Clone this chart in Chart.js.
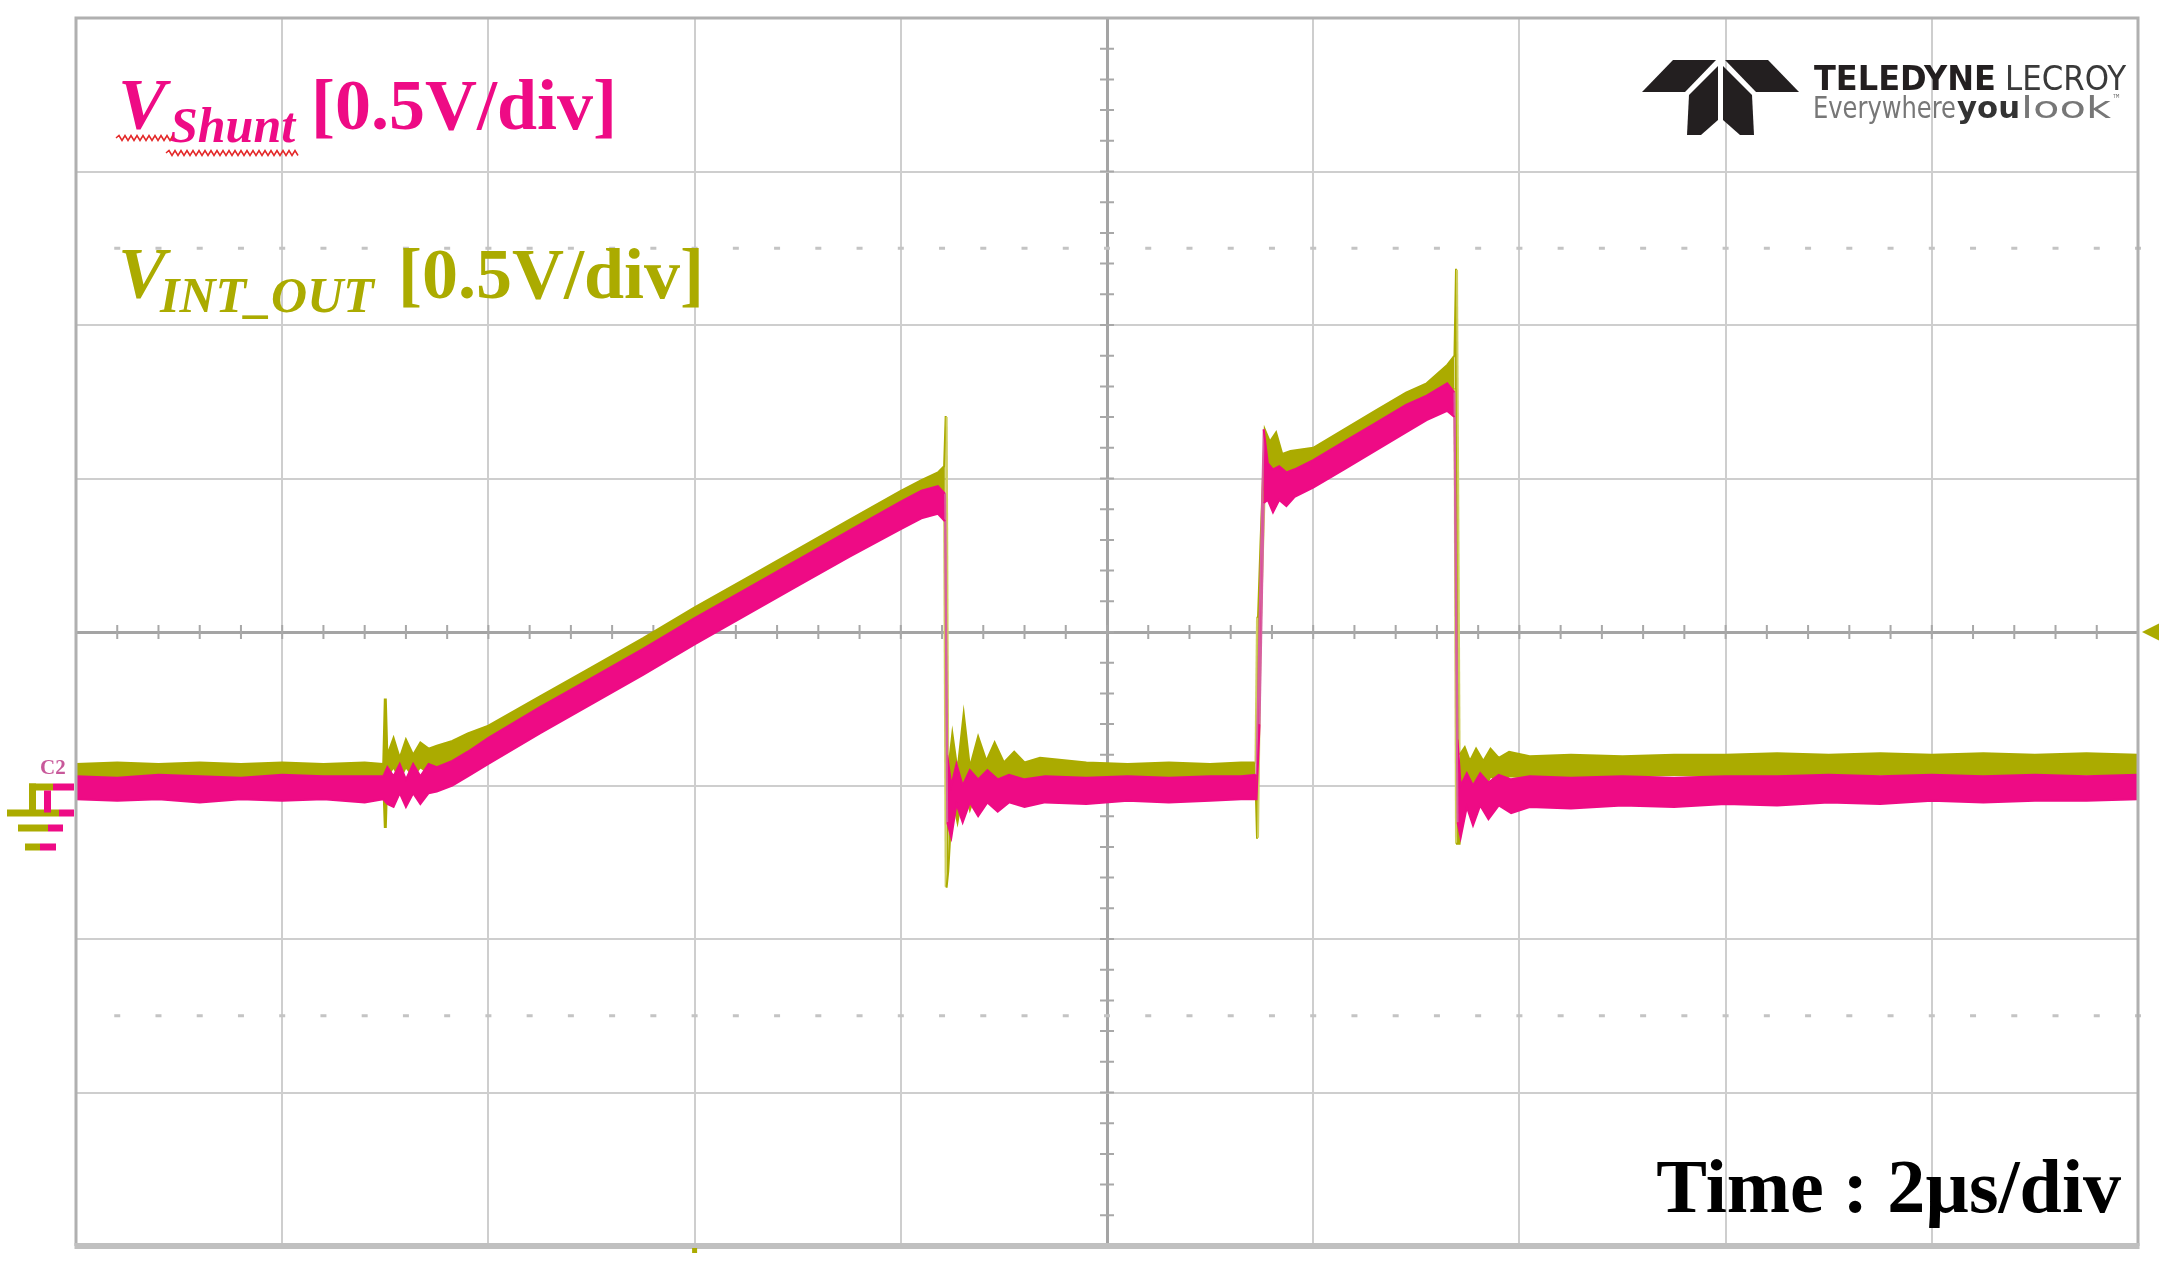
<!DOCTYPE html>
<html>
<head>
<meta charset="utf-8">
<script src="https://cdn.jsdelivr.net/npm/chart.js@4.4.1/dist/chart.umd.min.js"></script>
<style>
  html, body { margin: 0; padding: 0; background: #ffffff; }
  canvas { display: block; }
</style>
</head>
<body>
<canvas id="scope" width="2159" height="1268"></canvas>
<script>
// Time axis in microseconds: 2 us/div, 10 divisions.
var timeTicks = [0, 2, 4, 6, 8, 10, 12, 14, 16, 18, 20];

// Volt axis: 0.5 V/div, 8 divisions, ground one division under the centre.
var voltTicks = [-1.5, -1, -0.5, 0, 0.5, 1, 1.5, 2, 2.5];

// V_Shunt trace, drawn as a noise band between a low and a high edge.
var shuntTime = [0, 0.4, 0.8, 1.2, 1.6, 2.0, 2.4, 2.8, 2.98, 3.02,
                 3.08, 3.14, 3.2, 3.27, 3.34, 3.42, 3.5, 3.65, 3.8, 4.0,
                 4.5, 5.0, 5.5, 6.0, 6.5, 7.0, 7.5, 8.0, 8.2, 8.36,
                 8.43, 8.45, 8.49, 8.54, 8.6, 8.67, 8.75, 8.84, 8.94, 9.05,
                 9.2, 9.4, 9.8, 10.2, 10.6, 11.0, 11.3, 11.45, 11.48, 11.52,
                 11.56, 11.61, 11.67, 11.74, 11.82, 12.0, 12.3, 12.6, 12.9, 13.1,
                 13.3, 13.37, 13.4, 13.43, 13.49, 13.55, 13.62, 13.7, 13.8, 13.92,
                 14.1, 14.5, 15.0, 15.5, 16.0, 16.5, 17.0, 17.5, 18.0, 18.5,
                 19.0, 19.5, 20.0];
var shuntLow  = [-0.045, -0.05, -0.045, -0.055, -0.045, -0.05, -0.045, -0.055, -0.045, -0.06,
                 -0.07, -0.025, -0.07, -0.025, -0.06, -0.025, -0.02, 0.0, 0.03, 0.07,
                 0.17, 0.265, 0.36, 0.46, 0.555, 0.65, 0.745, 0.835, 0.87, 0.885,
                 0.86, -0.12, -0.17, -0.06, -0.12, -0.055, -0.10, -0.055, -0.085, -0.055,
                 -0.07, -0.055, -0.06, -0.05, -0.055, -0.05, -0.045, -0.045, 0.20, 0.92,
                 0.93, 0.89, 0.93, 0.91, 0.94, 0.97, 1.03, 1.09, 1.15, 1.19,
                 1.22, 1.20, -0.12, -0.17, -0.07, -0.13, -0.065, -0.11, -0.065, -0.09,
                 -0.07, -0.075, -0.065, -0.07, -0.06, -0.065, -0.055, -0.06, -0.05, -0.055,
                 -0.05, -0.05, -0.045];
var shuntHigh = [0.03, 0.025, 0.035, 0.03, 0.025, 0.035, 0.03, 0.03, 0.03, 0.06,
                 0.03, 0.07, 0.02, 0.07, 0.03, 0.07, 0.06, 0.08, 0.11, 0.155,
                 0.255, 0.35, 0.445, 0.545, 0.64, 0.735, 0.83, 0.925, 0.96, 0.975,
                 0.95, 0.10, 0.0, 0.07, 0.0, 0.05, 0.02, 0.05, 0.02, 0.035,
                 0.02, 0.03, 0.025, 0.03, 0.025, 0.03, 0.03, 0.035, 0.55, 1.16,
                 1.05, 1.03, 1.04, 1.02, 1.03, 1.06, 1.12, 1.18, 1.24, 1.27,
                 1.31, 1.28, 0.15, 0.0, 0.04, 0.0, 0.04, 0.01, 0.035, 0.02,
                 0.03, 0.025, 0.03, 0.025, 0.03, 0.03, 0.035, 0.03, 0.035, 0.03,
                 0.035, 0.03, 0.035];

// V_INT_OUT trace, same idea, with the switching spikes.
var outTime = [0, 0.4, 0.8, 1.2, 1.6, 2.0, 2.4, 2.8, 2.98, 2.995,
               3.005, 3.02, 3.08, 3.14, 3.2, 3.27, 3.34, 3.42, 3.5, 3.65,
               3.8, 4.0, 4.5, 5.0, 5.5, 6.0, 6.5, 7.0, 7.5, 8.0,
               8.2, 8.36, 8.42, 8.435, 8.445, 8.46, 8.5, 8.55, 8.61, 8.67,
               8.75, 8.83, 8.91, 9.0, 9.1, 9.2, 9.35, 9.8, 10.2, 10.6,
               11.0, 11.3, 11.44, 11.455, 11.465, 11.49, 11.53, 11.58, 11.64, 11.7,
               11.78, 12.0, 12.3, 12.6, 12.9, 13.1, 13.3, 13.37, 13.385, 13.395,
               13.42, 13.47, 13.52, 13.58, 13.65, 13.72, 13.8, 13.9, 14.1, 14.5,
               15.0, 15.5, 16.0, 16.5, 17.0, 17.5, 18.0, 18.5, 19.0, 19.5,
               20.0];
var outLow  = [0.015, 0.02, 0.015, 0.015, 0.02, 0.015, 0.015, 0.02, 0.015, -0.135,
               -0.135, 0.03, 0.06, 0.02, 0.06, 0.03, 0.06, 0.04, 0.06, 0.08,
               0.10, 0.14, 0.235, 0.33, 0.425, 0.52, 0.615, 0.71, 0.805, 0.895,
               0.93, 0.95, 0.94, -0.33, -0.33, -0.28, -0.04, -0.12, 0.0, -0.08,
               0.0, -0.03, 0.01, -0.01, 0.015, 0.01, 0.02, 0.015, 0.02, 0.015,
               0.02, 0.015, 0.02, -0.17, -0.17, 0.50, 0.96, 0.99, 0.94, 0.99,
               0.98, 1.04, 1.10, 1.16, 1.22, 1.26, 1.30, 1.29, -0.19, -0.19,
               -0.19, 0.0, -0.04, 0.02, -0.02, 0.03, 0.01, 0.03, 0.025, 0.03,
               0.03, 0.035, 0.03, 0.035, 0.03, 0.035, 0.035, 0.03, 0.035, 0.035,
               0.035];
var outHigh = [0.07, 0.075, 0.07, 0.075, 0.07, 0.075, 0.07, 0.075, 0.07, 0.28,
               0.28, 0.10, 0.155, 0.09, 0.15, 0.10, 0.14, 0.12, 0.13, 0.145,
               0.17, 0.195, 0.29, 0.385, 0.48, 0.58, 0.675, 0.77, 0.865, 0.96,
               0.995, 1.02, 1.04, 1.20, 1.20, 0.05, 0.17, 0.05, 0.235, 0.06,
               0.16, 0.08, 0.14, 0.075, 0.11, 0.075, 0.09, 0.075, 0.07, 0.075,
               0.07, 0.075, 0.075, 0.55, 0.55, 0.80, 1.16, 1.12, 1.15, 1.08,
               1.09, 1.10, 1.16, 1.22, 1.28, 1.31, 1.37, 1.40, 1.68, 1.68,
               0.10, 0.125, 0.08, 0.12, 0.08, 0.12, 0.09, 0.11, 0.095, 0.10,
               0.095, 0.10, 0.10, 0.105, 0.10, 0.105, 0.10, 0.105, 0.10, 0.105,
               0.10];

var PINK = '#ee0b85';
var PINK_EDGE = '#d7609f';
var OLIVE = '#abab00';
var OLIVE_EDGE = '#d0d060';

function toPoints(xs, ys) {
    return xs.map(function(x, i) { return {x: x, y: ys[i]}; });
}

// Lighter colour on the near-vertical switching edges.
function edgeColor(pale) {
    return function(ctx) {
        return Math.abs(ctx.p1.parsed.y - ctx.p0.parsed.y) > 0.4 ? pale : undefined;
    };
}

function band(label, xs, ys, color, pale, fill) {
    return {
        label: label,
        data: toPoints(xs, ys),
        borderColor: color,
        backgroundColor: color,
        borderWidth: 2,
        pointRadius: 0,
        tension: 0,
        fill: fill,
        segment: { borderColor: edgeColor(pale) }
    };
}

// Text squeezed or stretched to a given width.
function fitText(ctx, text, x, y, width, font, color) {
    ctx.font = font;
    var w = ctx.measureText(text).width;
    ctx.save();
    ctx.translate(x, y);
    ctx.scale(width / w, 1);
    ctx.fillStyle = color;
    ctx.textAlign = 'left';
    ctx.fillText(text, 0, 0);
    ctx.restore();
}

function wavy(ctx, x0, x1, y) {
    ctx.beginPath();
    var up = true;
    ctx.moveTo(x0, y);
    for (var x = x0 + 3; x <= x1; x += 3) {
        ctx.lineTo(x, up ? y - 2.5 : y + 2.5);
        up = !up;
    }
    ctx.strokeStyle = '#e42a2a';
    ctx.lineWidth = 1.5;
    ctx.stroke();
}

function poly(ctx, pts) {
    ctx.beginPath();
    ctx.moveTo(pts[0][0], pts[0][1]);
    for (var i = 1; i < pts.length; i++) ctx.lineTo(pts[i][0], pts[i][1]);
    ctx.closePath();
    ctx.fill();
}

// Minor ticks on the centre cross and the dotted lines at +-2.5 div.
var graticule = {
    id: 'graticule',
    beforeDatasetsDraw: function(chart) {
        var ctx = chart.ctx, xs = chart.scales.x, ys = chart.scales.y;
        var cx = xs.getPixelForValue(10), cy = ys.getPixelForValue(0.5);
        ctx.save();
        ctx.strokeStyle = '#a8a8a8';
        ctx.lineWidth = 2;
        ctx.beginPath();
        for (var t = 0.4; t < 20; t += 0.4) {
            var px = xs.getPixelForValue(t);
            ctx.moveTo(px, cy - 7); ctx.lineTo(px, cy + 7);
        }
        for (var v = -1.4; v < 2.5; v += 0.1) {
            var py = ys.getPixelForValue(v);
            ctx.moveTo(cx - 7, py); ctx.lineTo(cx + 7, py);
        }
        ctx.stroke();
        ctx.fillStyle = '#c4c4c4';
        [1.75, -0.75].forEach(function(lv) {
            var py = ys.getPixelForValue(lv);
            for (var t = 0.4; t < 20; t += 0.4) {
                ctx.fillRect(xs.getPixelForValue(t) - 3, py - 1.5, 6, 3);
            }
        });
        ctx.restore();
    },
    afterDraw: function(chart) {
        var ctx = chart.ctx, a = chart.chartArea;
        var xs = chart.scales.x, ys = chart.scales.y;
        ctx.save();

        // Outer frame.
        ctx.strokeStyle = '#b0b0b0';
        ctx.lineWidth = 3;
        ctx.beginPath();
        ctx.moveTo(a.left, a.bottom); ctx.lineTo(a.left, a.top);
        ctx.lineTo(a.right, a.top); ctx.lineTo(a.right, a.bottom);
        ctx.stroke();
        ctx.fillStyle = '#c0c0c0';
        ctx.fillRect(a.left - 1.5, a.bottom - 3, a.right - a.left + 3, 6);

        // Channel labels.
        ctx.textBaseline = 'alphabetic';
        ctx.textAlign = 'left';
        ctx.fillStyle = PINK;
        ctx.font = 'italic bold 72px "Liberation Serif", serif';
        ctx.fillText('V', 118, 128);
        ctx.font = 'italic bold 50px "Liberation Serif", serif';
        ctx.fillText('Shunt', 170, 142);
        ctx.font = 'bold 72px "Liberation Serif", serif';
        ctx.fillText('[0.5V/div]', 311, 129);
        wavy(ctx, 116, 173, 138);
        wavy(ctx, 166, 300, 153);

        ctx.fillStyle = OLIVE;
        ctx.font = 'italic bold 72px "Liberation Serif", serif';
        ctx.fillText('V', 118, 297);
        ctx.font = 'italic bold 50px "Liberation Serif", serif';
        ctx.fillText('INT_OUT', 160, 312);
        ctx.font = 'bold 72px "Liberation Serif", serif';
        ctx.fillText('[0.5V/div]', 398, 298);

        // Time base label.
        ctx.fillStyle = '#000000';
        ctx.textAlign = 'right';
        ctx.font = 'bold 76px "Liberation Serif", serif';
        ctx.fillText('Time : 2\u00b5s/div', 2121, 1212);
        ctx.textAlign = 'left';

        // Scope logo.
        var lc = 1720.5;
        var left = [
            [[1673, 60], [1716, 60], [1685, 92], [1642, 92]],
            [[1689, 95], [1718, 66], [1718, 120], [1701, 135], [1687, 135]]
        ];
        ctx.fillStyle = '#231f20';
        left.forEach(function(p) {
            poly(ctx, p);
            poly(ctx, p.map(function(q) { return [2 * lc - q[0], q[1]]; }));
        });
        var narrow = '"Liberation Sans Narrow", "DejaVu Sans Condensed", sans-serif';
        fitText(ctx, 'TELEDYNE', 1814, 90, 182, 'bold 34px ' + narrow, '#231f20');
        fitText(ctx, 'LECROY', 2005, 90, 121, '34px ' + narrow, '#3a3a3a');
        fitText(ctx, 'Everywhere', 1813, 118, 143, '30px ' + narrow, '#777777');
        fitText(ctx, 'you', 1957, 118, 63, 'bold 30px ' + narrow, '#333333');
        fitText(ctx, 'look', 2021, 118, 90, '30px ' + narrow, '#777777');
        fitText(ctx, '\u2122', 2112, 104, 9, '14px ' + narrow, '#777777');

        // Ground marker for both channels.
        var g = ys.getPixelForValue(0);
        ctx.fillStyle = '#c8589a';
        ctx.font = 'bold 21px "Liberation Serif", serif';
        ctx.fillText('C2', 40, g - 12);
        ctx.fillStyle = OLIVE;
        ctx.fillRect(29, g - 2, 24, 7);
        ctx.fillRect(29, g - 2, 7, 30);
        ctx.fillRect(7, g + 24, 52, 7);
        ctx.fillRect(18, g + 39, 30, 7);
        ctx.fillRect(25, g + 58, 15, 7);
        ctx.fillStyle = PINK;
        ctx.fillRect(53, g - 2, 21, 7);
        ctx.fillRect(44, g + 5, 7, 22);
        ctx.fillRect(59, g + 24, 15, 7);
        ctx.fillRect(48, g + 39, 15, 7);
        ctx.fillRect(40, g + 58, 16, 7);

        // Trigger level and trigger position markers.
        var ty = ys.getPixelForValue(0.5);
        ctx.fillStyle = OLIVE;
        ctx.beginPath();
        ctx.moveTo(a.right + 4, ty);
        ctx.lineTo(a.right + 22, ty - 9);
        ctx.lineTo(a.right + 22, ty + 9);
        ctx.closePath();
        ctx.fill();
        ctx.fillRect(xs.getPixelForValue(6) - 2.5, a.bottom + 2, 5, 5);

        ctx.restore();
    }
};

function gridColor(centre, edgeLo, edgeHi) {
    return function(c) {
        var v = c.tick ? c.tick.value : null;
        if (v === centre) return '#a4a4a4';
        if (v === edgeLo || v === edgeHi) return 'rgba(0,0,0,0)';
        return '#cecece';
    };
}

function gridWidth(centre) {
    return function(c) {
        return c.tick && c.tick.value === centre ? 3 : 2;
    };
}

new Chart(document.getElementById('scope'), {
    type: 'line',
    data: {
        datasets: [
            band('V_Shunt low', shuntTime, shuntLow, PINK, PINK_EDGE, false),
            band('V_Shunt high', shuntTime, shuntHigh, PINK, PINK_EDGE, '-1'),
            band('V_INT_OUT low', outTime, outLow, OLIVE, OLIVE_EDGE, false),
            band('V_INT_OUT high', outTime, outHigh, OLIVE, OLIVE_EDGE, '-1')
        ]
    },
    options: {
        responsive: false,
        animation: false,
        layout: { padding: { left: 76, right: 21, top: 18, bottom: 22 } },
        plugins: {
            legend: { display: false },
            tooltip: { enabled: false },
            title: { display: false }
        },
        scales: {
            x: {
                type: 'linear',
                min: timeTicks[0],
                max: timeTicks[timeTicks.length - 1],
                afterBuildTicks: function(scale) {
                    scale.ticks = timeTicks.map(function(v) { return {value: v}; });
                },
                ticks: { display: false },
                border: { display: false },
                grid: {
                    drawTicks: false,
                    color: gridColor(10, 0, 20),
                    lineWidth: gridWidth(10)
                }
            },
            y: {
                type: 'linear',
                min: voltTicks[0],
                max: voltTicks[voltTicks.length - 1],
                afterBuildTicks: function(scale) {
                    scale.ticks = voltTicks.map(function(v) { return {value: v}; });
                },
                ticks: { display: false },
                border: { display: false },
                grid: {
                    drawTicks: false,
                    color: gridColor(0.5, -1.5, 2.5),
                    lineWidth: gridWidth(0.5)
                }
            }
        }
    },
    plugins: [graticule]
});
</script>
</body>
</html>
